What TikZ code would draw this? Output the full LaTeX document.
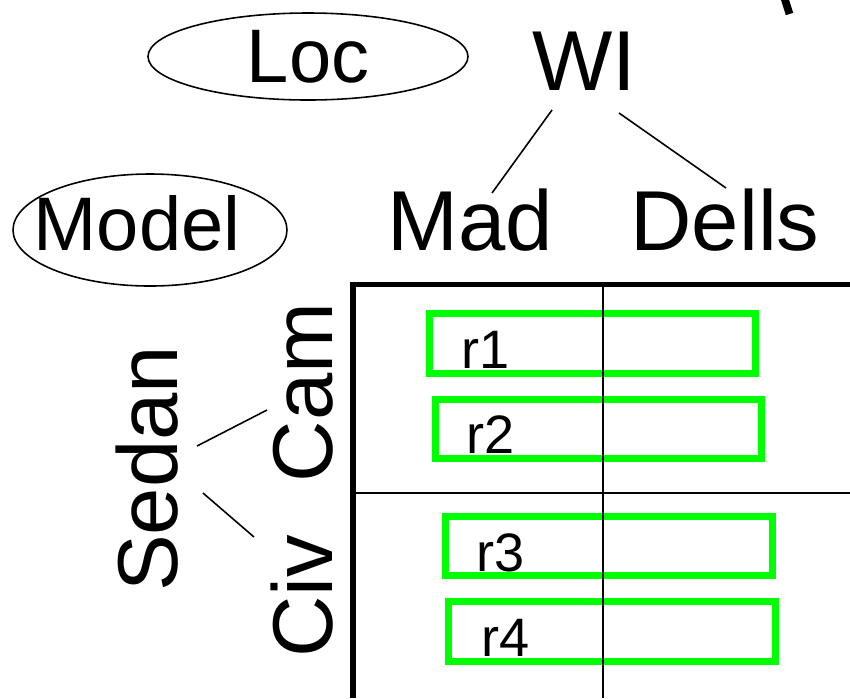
\documentclass[tikz,border=0pt]{standalone}
\usepackage{fontspec}
\setmainfont{Liberation Sans}
\usepackage{xcolor}
\usepackage{tikz}
\usetikzlibrary{shapes.geometric}

\definecolor{rowgreen}{RGB}{0,255,0}

\begin{document}
\begin{tikzpicture}[
    every node/.style={inner sep=0pt},
    big/.style={font=\fontsize{24.2}{29}\selectfont},
    mid/.style={font=\fontsize{21.6}{26}\selectfont},
    small/.style={font=\fontsize{15.4}{18}\selectfont},
    oval/.style={draw, ellipse, line width=0.45pt, mid},
    link/.style={line width=0.45pt},
    frame/.style={line width=1.5pt},
    grid/.style={line width=0.6pt},
    rowbox/.style={draw=rowgreen, line width=2pt},
]
\useasboundingbox (0,0) rectangle (8.5,-6.98);

% Dimension headers (top)
\node[oval, minimum width=3.2cm, minimum height=0.87cm] (loc) at (3.08,-0.565) {Loc};
\node[oval, minimum width=2.74cm, minimum height=1.12cm] (modeloval) at (1.50,-2.30) {};
\node[mid, anchor=base] (model) at (1.37,-2.50) {Model};

% Loc hierarchy
\node[big, anchor=base] (wi) at (5.84,-0.90) {WI};
\node[big, anchor=base] (mad) at (4.70,-2.50) {Mad};
\node[big, anchor=base] (dells) at (7.25,-2.50) {Dells};

% Model hierarchy (rotated)
\node[big, rotate=90, anchor=base] (sedan) at (1.77,-4.69) {Sedan};
\node[big, rotate=90, anchor=base] (cam) at (3.32,-3.925) {Cam};
\node[big, rotate=90, anchor=base] (civ) at (3.32,-5.96) {Civ};

% Tree edges
\draw[link] ([shift={(-0.32,-0.20)}]wi.base) -- ([shift={(0.22,0.57)}]mad.base);
\draw[link] ([shift={(0.35,-0.23)}]wi.base) -- ([shift={(0.01,0.62)}]dells.base);
\draw[link] ([shift={(0.20,0.23)}]sedan.base) -- ([shift={(-0.65,-0.175)}]cam.base);
\draw[link] ([shift={(0.26,-0.24)}]sedan.base) -- ([shift={(-0.78,0.59)}]civ.base);

% Rows (green boxes)
\draw[rowbox] (4.295,-3.135) rectangle (7.555,-3.735);
\draw[rowbox] (4.355,-3.995) rectangle (7.615,-4.585);
\draw[rowbox] (4.455,-5.165) rectangle (7.725,-5.755);
\draw[rowbox] (4.485,-6.015) rectangle (7.755,-6.615);
\node[small, anchor=base west] (r1) at (4.605,-3.68) {r1};
\node[small, anchor=base west] (r2) at (4.655,-4.53) {r2};
\node[small, anchor=base west] (r3) at (4.755,-5.71) {r3};
\node[small, anchor=base west] (r4) at (4.805,-6.56) {r4};

% Grid
\draw[frame] (8.5,-2.845) -| (3.53,-6.98);
\draw[grid] (6.03,-2.845) -- (6.03,-6.98);
\draw[grid] (3.53,-4.93) -- (8.5,-4.93);

% cut-off stroke at top edge
\draw[line width=2.2pt] (7.835,0.05) -- (7.895,-0.14);

\end{tikzpicture}
\end{document}
